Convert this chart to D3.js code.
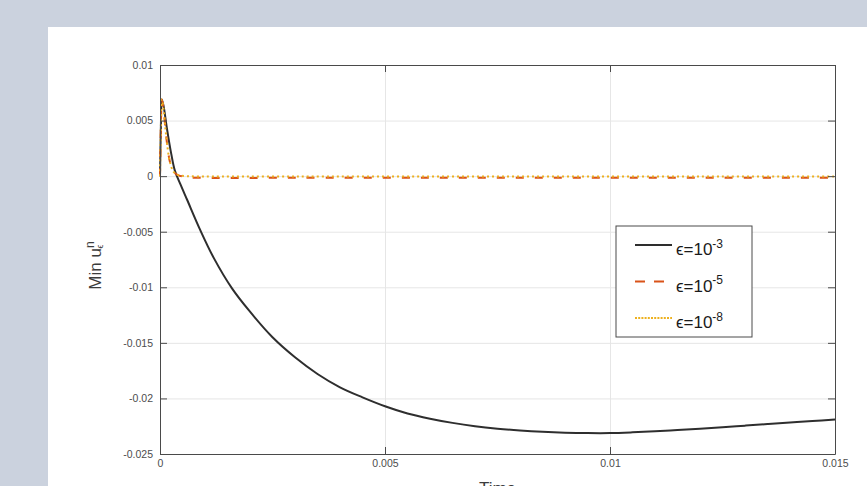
<!DOCTYPE html>
<html>
<head>
<meta charset="utf-8">
<script src="https://cdn.jsdelivr.net/npm/d3@7"></script>
<style>
  html, body { margin: 0; padding: 0; background: #cbd2de; }
  svg { display: block; font-family: "Liberation Sans", Arial, sans-serif; }
</style>
</head>
<body>
<svg id="chart" width="867" height="486"></svg>
<script>
// values
const xTicks = [0, 0.005, 0.01, 0.015];
const yTicks = [0.01, 0.005, 0, -0.005, -0.01, -0.015, -0.02, -0.025];
const legendBase = ["ϵ=10", "ϵ=10", "ϵ=10"];
const legendExp = ["-3", "-5", "-8"];

// eps = 1e-3
const timeCoarse = [0, 0.00002, 0.00004, 0.00008, 0.00015, 0.00025, 0.00033, 0.00045, 0.0006,
  0.0009, 0.0012, 0.0016, 0.002, 0.0025, 0.003, 0.0035, 0.004, 0.0045, 0.005, 0.0055, 0.006,
  0.0065, 0.007, 0.0075, 0.008, 0.0085, 0.009, 0.0095, 0.01, 0.0105, 0.011, 0.0115, 0.012,
  0.0125, 0.013, 0.0135, 0.014, 0.0145, 0.015];
const minCoarse = [0, 0.0045, 0.0069, 0.0063, 0.0044, 0.0020, 0.0005, -0.0007, -0.0021,
  -0.0049, -0.0074, -0.0101, -0.0122, -0.0145, -0.0163, -0.0178, -0.0190, -0.0199, -0.0207,
  -0.02135, -0.02182, -0.02220, -0.02250, -0.02272, -0.02288, -0.02300, -0.02308, -0.02312,
  -0.02312, -0.02305, -0.02295, -0.02284, -0.02272, -0.02259, -0.02245, -0.02231, -0.02217,
  -0.02203, -0.02190];

// eps = 1e-5 and 1e-8
const timeFine = [0, 0.00002, 0.00004, 0.00008, 0.00012, 0.00017, 0.00022, 0.0003, 0.0004,
  0.0006, 0.001, 0.003, 0.006, 0.009, 0.012, 0.015];
const minMid = [0, 0.0045, 0.0069, 0.0060, 0.0043, 0.0025, 0.0013, 0.0004, 0.0001,
  -0.0001, -0.00015, -0.00015, -0.00015, -0.00015, -0.00015, -0.00015];
const minFine = [0, 0.0045, 0.0069, 0.0060, 0.0043, 0.0025, 0.0013, 0.0004, 0.0001,
  0, -0.00003, -0.00003, -0.00003, -0.00003, -0.00003, -0.00003];

const series = [
  { t: timeCoarse, v: minCoarse, colour: "#2e2e2e", dash: null, legendDash: null },
  { t: timeFine, v: minMid, colour: "#d95319", dash: "8,11", legendDash: "10,9" },
  { t: timeFine, v: minFine, colour: "#edb120", dash: "2,3", legendDash: "2,1.2" }
];

const plot = { left: 160, right: 835, top: 65, bottom: 454 };
const axisColour = "#4a4a4a";
const gridColour = "#e6e6e6";

const svg = d3.select("#chart");

// white figure panel
svg.append("rect")
  .attr("x", 48).attr("y", 27)
  .attr("width", 867 - 48).attr("height", 486 - 27)
  .attr("fill", "#ffffff");

const x = d3.scaleLinear().domain([0, 0.015]).range([plot.left, plot.right]);
const y = d3.scaleLinear().domain([-0.025, 0.01]).range([plot.bottom, plot.top]);

// grid
svg.append("g")
  .attr("transform", `translate(0, ${plot.bottom})`)
  .call(d3.axisBottom(x).tickValues(xTicks).tickSize(-(plot.bottom - plot.top)).tickFormat(""))
  .call(g => g.select(".domain").remove())
  .selectAll("line").attr("stroke", gridColour);
svg.append("g")
  .attr("transform", `translate(${plot.left}, 0)`)
  .call(d3.axisLeft(y).tickValues(yTicks).tickSize(-(plot.right - plot.left)).tickFormat(""))
  .call(g => g.select(".domain").remove())
  .selectAll("line").attr("stroke", gridColour);

// lines
const line = d3.line().curve(d3.curveCatmullRom.alpha(0.5));
series.forEach(s => {
  const pts = s.t.map((t, i) => [x(t), y(s.v[i])]);
  svg.append("path")
    .attr("d", line(pts))
    .attr("fill", "none")
    .attr("stroke", s.colour)
    .attr("stroke-width", 2)
    .attr("stroke-dasharray", s.dash);
});

// axes, ticks inward
function styleAxis(g) {
  g.select(".domain").attr("stroke", axisColour);
  g.selectAll(".tick line").attr("stroke", axisColour);
  g.selectAll(".tick text").attr("fill", "#4d4d4d").attr("font-size", "10.5px")
    .attr("font-family", "Liberation Sans, Arial, sans-serif");
}
const fmt = d => d === 0 ? "0" : String(+d.toFixed(3));

svg.append("g")
  .attr("transform", `translate(0, ${plot.bottom})`)
  .call(d3.axisBottom(x).tickValues(xTicks).tickSizeInner(-7).tickSizeOuter(0).tickPadding(6).tickFormat(fmt))
  .call(styleAxis);
svg.append("g")
  .attr("transform", `translate(${plot.left}, 0)`)
  .call(d3.axisLeft(y).tickValues(yTicks).tickSizeInner(-7).tickSizeOuter(0).tickPadding(7).tickFormat(fmt))
  .call(styleAxis);
svg.append("g")
  .attr("transform", `translate(0, ${plot.top})`)
  .call(d3.axisTop(x).tickValues(xTicks).tickSizeInner(-7).tickSizeOuter(0).tickFormat(""))
  .call(styleAxis);
svg.append("g")
  .attr("transform", `translate(${plot.right}, 0)`)
  .call(d3.axisRight(y).tickValues(yTicks).tickSizeInner(-7).tickSizeOuter(0).tickFormat(""))
  .call(styleAxis);

// axis labels
const yLabel = svg.append("text")
  .attr("transform", `translate(101, ${(plot.top + plot.bottom) / 2 + 6}) rotate(-90)`)
  .attr("text-anchor", "middle")
  .attr("font-size", "17px")
  .attr("fill", "#3c3c3c");
yLabel.append("tspan").text("Min u");
yLabel.append("tspan").attr("dy", "-0.6em").attr("font-size", "12px").text("n");
yLabel.append("tspan").attr("dx", "-7px").attr("dy", "1.05em").attr("font-size", "9px").text("ϵ");

svg.append("text")
  .attr("x", (plot.left + plot.right) / 2)
  .attr("y", 494)
  .attr("text-anchor", "middle")
  .attr("font-size", "17px")
  .attr("fill", "#3c3c3c")
  .text("Time");

// legend
const legend = svg.append("g").attr("transform", "translate(616, 226)");
legend.append("rect")
  .attr("width", 136).attr("height", 111)
  .attr("fill", "#ffffff")
  .attr("stroke", "#4a4a4a");
series.forEach((s, i) => {
  const ly = 19 + i * 36.5;
  legend.append("line")
    .attr("x1", 19).attr("x2", 56)
    .attr("y1", ly).attr("y2", ly)
    .attr("stroke", s.colour)
    .attr("stroke-width", 2)
    .attr("stroke-dasharray", s.legendDash);
  const t = legend.append("text")
    .attr("x", 60).attr("y", ly + 10)
    .attr("font-size", "17px")
    .attr("fill", "#1a1a1a");
  t.append("tspan").text(legendBase[i]);
  t.append("tspan").attr("dy", "-0.6em").attr("font-size", "12px").text(legendExp[i]);
});
</script>
</body>
</html>
